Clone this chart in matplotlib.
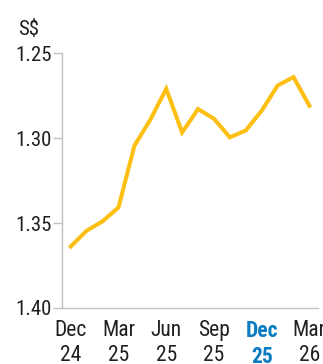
import matplotlib.pyplot as plt

# monthly SGD rate, Dec 24 .. Mar 26
months = list(range(16))
rate = [1.3638, 1.3545, 1.3490, 1.3408, 1.3045, 1.2892, 1.2710, 1.2967,
        1.2829, 1.2886, 1.2996, 1.2955, 1.2839, 1.2691, 1.2641, 1.2810]
tick_pos = [0, 3, 6, 9, 12, 15]
tick_labels = ['Dec\n24', 'Mar\n25', 'Jun\n25', 'Sep\n25', 'Dec\n25', 'Mar\n26']
y_ticks = [1.25, 1.30, 1.35, 1.40]

plt.rcParams['font.family'] = ['Roboto Condensed', 'Archivo Narrow',
                               'Liberation Sans Narrow', 'DejaVu Sans']

fig = plt.figure(figsize=(3.23, 3.64), dpi=100)
ax = fig.add_axes([0.192, 0.154, 0.793, 0.7])

ax.plot(months, rate, color='#fcbf12', lw=2.9, solid_joinstyle='miter')

ax.set_ylim(1.40, 1.25)
ax.set_xlim(-0.55, 15.55)
ax.set_yticks(y_ticks)
ax.set_yticklabels(['%.2f' % v for v in y_ticks])
ax.set_xticks(tick_pos)
ax.set_xticklabels(tick_labels, linespacing=1.2)

for s in ['top', 'right']:
    ax.spines[s].set_visible(False)
for s in ['left', 'bottom']:
    ax.spines[s].set_color('#c0c0c0')
    ax.spines[s].set_linewidth(1.0)

ax.tick_params(axis='y', length=6.5, width=1.0, color='#c0c0c0', pad=1,
               labelsize=15, labelcolor='#231f20')
ax.tick_params(axis='x', length=0, pad=9, labelsize=15.5, labelcolor='#231f20')

hl = ax.get_xticklabels()[4]
hl.set_color('#0a7cc1')
hl.set_fontweight('bold')

fig.text(0.055, 0.905, 'S$', fontsize=15, color='#231f20')

fig.savefig('out.png', dpi=100)
